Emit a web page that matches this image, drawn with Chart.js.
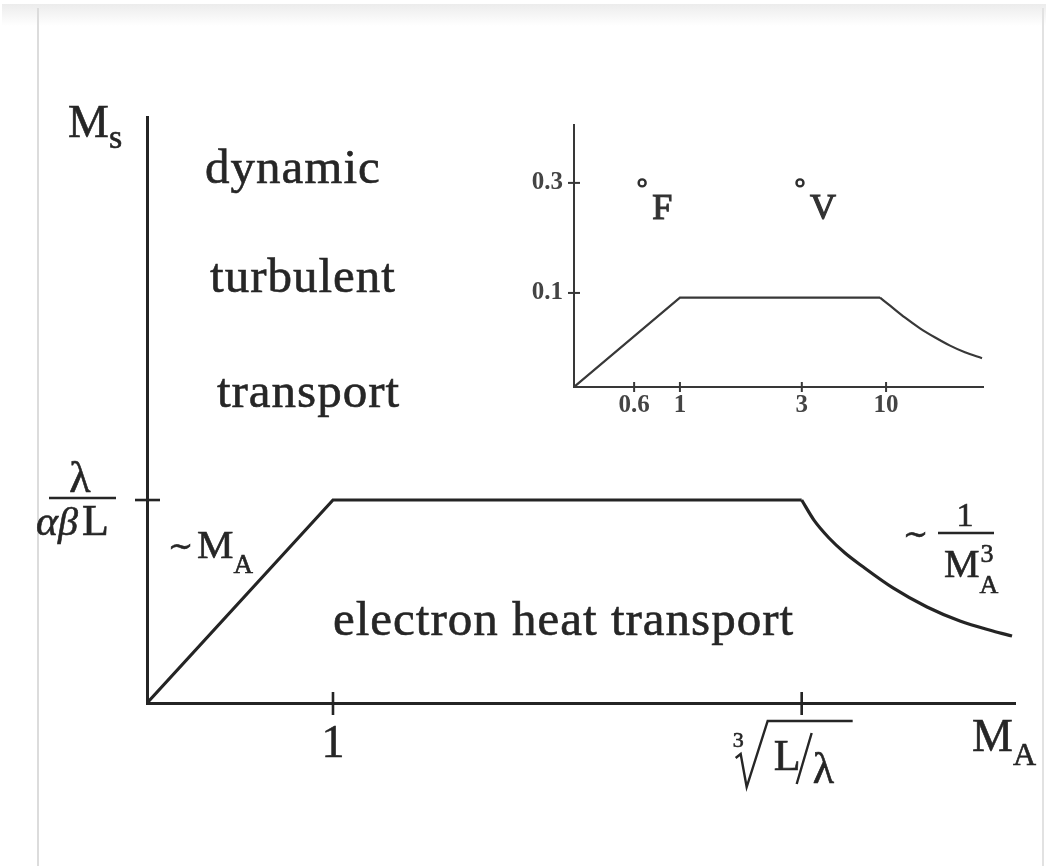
<!DOCTYPE html>
<html>
<head>
<meta charset="utf-8">
<script src="https://cdn.jsdelivr.net/npm/chart.js@4.4.1/dist/chart.umd.min.js"></script>
<style>
  html, body { margin: 0; padding: 0; background: #fff; }
  #page { position: relative; width: 1046px; height: 866px; overflow: hidden; background: #fff; }
  #topband { position: absolute; left: 2px; top: 4px; width: 1044px; height: 22px; background: linear-gradient(#ececec, #ffffff); }
  #leftrule { position: absolute; left: 37px; top: 8px; width: 2px; height: 858px; background: #dcdcdc; }
  #rightrule { position: absolute; left: 1042px; top: 8px; width: 2px; height: 858px; background: #e2e2e2; }
  #main { position: absolute; left: 0; top: 0; }
  #inset { position: absolute; left: 500px; top: 110px; }
</style>
</head>
<body>
<div id="page">
  <div id="topband"></div>
  <div id="leftrule"></div>
  <div id="rightrule"></div>
  <canvas id="main" width="1046" height="866"></canvas>
  <canvas id="inset" width="500" height="320"></canvas>
</div>
<script>
// ---- Main diagram: sonic Mach number M_s (units of λ/(αβL)) against Alfvén Mach number M_A ----
const cubeRootLoverLambda = 3.52;            // position of the ∛(L/λ) break on the M_A axis
const riseMA  = [0, 1, cubeRootLoverLambda];
const riseMs  = [0, 1, 1];
const fallMA  = [cubeRootLoverLambda, 3.586, 3.667, 3.753, 3.844, 4.011, 4.194, 4.371, 4.548, 4.651];
const fallMs  = [1, 0.901, 0.813, 0.739, 0.675, 0.567, 0.473, 0.404, 0.355, 0.330];
const mainXTicks = [1, cubeRootLoverLambda];
const mainYTicks = [1];

// ---- Inset: measured threshold curve with the F and V cases ----
const insetRiseMA = [0, 1, 9.5];
const insetRiseMs = [0, 0.095, 0.095];
const insetFallMA = [9.5, 11.24, 15.9, 20.5, 25.2, 29.8, 34.4, 39.7];
const insetFallMs = [0.095, 0.0865, 0.0737, 0.0624, 0.0526, 0.0440, 0.0369, 0.0306];
const insetXTicks = [0.6, 1, 3, 10];
const insetXTickLabels = ['0.6', '1', '3', '10'];
const insetYTicks = [0.1, 0.3];
const insetYTickLabels = ['0.1', '0.3'];
const caseNames = ['F', 'V'];
const caseMA = [0.67, 2.97];
const caseMs = [0.3, 0.3];

const INK = '#262626';
const LINE = '#242424';
const SERIF = '"Liberation Serif", "DejaVu Serif", serif';

// Schematic axis: piecewise-linear between break values
const insetBreaks = {
  x: { values: [0, 0.6, 1, 3, 10, 40], fractions: [0, 0.147, 0.259, 0.557, 0.763, 1] },
  y: { values: [0, 0.1, 0.3, 0.405], fractions: [0, 0.359, 0.779, 1] }
};
class SchematicScale extends Chart.LinearScale {
  _fraction(value) {
    const b = insetBreaks[this.axis];
    const v = b.values, f = b.fractions;
    if (value <= v[0]) return f[0];
    for (let i = 0; i < v.length - 1; i++) {
      if (value <= v[i + 1]) {
        return f[i] + (value - v[i]) / (v[i + 1] - v[i]) * (f[i + 1] - f[i]);
      }
    }
    return f[f.length - 1];
  }
  getPixelForValue(value) {
    return this.getPixelForDecimal(this._fraction(value));
  }
  getValueForPixel(pixel) {
    const b = insetBreaks[this.axis];
    const d = this.getDecimalForPixel(pixel);
    const v = b.values, f = b.fractions;
    for (let i = 0; i < f.length - 1; i++) {
      if (d <= f[i + 1]) return v[i] + (d - f[i]) / (f[i + 1] - f[i]) * (v[i + 1] - v[i]);
    }
    return v[v.length - 1];
  }
}
SchematicScale.id = 'schematic';
SchematicScale.defaults = { ticks: { callback: Chart.Ticks.formatters.numeric } };
Chart.register(SchematicScale);

function drawText(ctx, s, x, y, size, opts = {}) {
  ctx.save();
  ctx.font = (opts.italic ? 'italic ' : '') + (opts.bold ? 'bold ' : '') + size + 'px ' + SERIF;
  ctx.fillStyle = opts.color || INK;
  ctx.strokeStyle = opts.color || INK;
  ctx.lineWidth = opts.weight === undefined ? 0.6 : opts.weight;
  ctx.textAlign = opts.align || 'left';
  ctx.textBaseline = 'alphabetic';
  if (opts.spacing) ctx.letterSpacing = opts.spacing + 'px';
  ctx.fillText(s, x, y);
  if (ctx.lineWidth > 0) ctx.strokeText(s, x, y);
  const w = ctx.measureText(s).width;
  ctx.restore();
  return w;
}
function drawLine(ctx, pts, width, color) {
  ctx.save();
  ctx.strokeStyle = color || INK;
  ctx.lineWidth = width;
  ctx.lineJoin = 'miter';
  ctx.beginPath();
  ctx.moveTo(pts[0][0], pts[0][1]);
  for (let i = 1; i < pts.length; i++) ctx.lineTo(pts[i][0], pts[i][1]);
  ctx.stroke();
  ctx.restore();
}
const toPoints = (xs, ys) => xs.map((x, i) => ({ x, y: ys[i] }));

// Tick marks, math tick labels, axis titles and region labels of the main diagram
const mainAnnotations = {
  id: 'mainAnnotations',
  afterDraw(chart) {
    const ctx = chart.ctx;
    const xs = chart.scales.x, ys = chart.scales.y;
    const X = v => xs.getPixelForValue(v);
    const Y = v => ys.getPixelForValue(v);
    const x0 = X(0), y0 = Y(0);

    // crossing tick marks
    mainXTicks.forEach(v => drawLine(ctx, [[X(v), y0 - 11], [X(v), y0 + 12]], 2.6, LINE));
    mainYTicks.forEach(v => drawLine(ctx, [[x0 - 12, Y(v)], [x0 + 13, Y(v)]], 2.6, LINE));

    // x tick label "1"
    drawText(ctx, '1', X(1), y0 + 54, 46, { align: 'center' });

    // x tick label ∛(L/λ)
    const tx = X(cubeRootLoverLambda);
    drawText(ctx, '3', tx - 69, y0 + 44, 22);
    drawLine(ctx, [[tx - 66, y0 + 55], [tx - 61, y0 + 51], [tx - 55, y0 + 84], [tx - 34, y0 + 18], [tx + 51, y0 + 18]], 2.4, INK);
    drawText(ctx, 'L', tx - 28, y0 + 67, 44);
    drawLine(ctx, [[tx + 10, y0 + 30], [tx - 5, y0 + 81]], 2.4, INK);
    drawText(ctx, 'λ', tx + 11, y0 + 80, 44);

    // y tick label λ/(αβL)
    const ty = Y(1);
    drawText(ctx, 'λ', 80, ty - 8, 44, { align: 'center' });
    drawLine(ctx, [[49, ty - 2], [116, ty - 2]], 2.6, INK);
    let w = drawText(ctx, 'α', 36, ty + 35, 42, { italic: true });
    w += drawText(ctx, 'β', 36 + w, ty + 35, 40, { italic: true });
    drawText(ctx, 'L', 40 + w, ty + 35, 44);

    // axis titles
    const wm = drawText(ctx, 'M', 68, 137, 46);
    drawText(ctx, 's', 68 + wm, 148, 34);
    const wa = drawText(ctx, 'M', 972, 751, 46);
    drawText(ctx, 'A', 972 + wa, 765, 32);

    // slope annotations
    drawText(ctx, '∼', 168, 556, 30);
    const wr = drawText(ctx, 'M', 197, 558, 41);
    drawText(ctx, 'A', 197 + wr, 573, 27);

    drawText(ctx, '∼', 903, 544, 30);
    drawText(ctx, '1', 965, 526, 34, { align: 'center' });
    drawLine(ctx, [[938, 533], [994, 533]], 2.4, INK);
    const wf = drawText(ctx, 'M', 944, 577, 40);
    drawText(ctx, '3', 944 + wf + 1, 562, 26);
    drawText(ctx, 'A', 944 + wf, 593, 26);

    // regime labels
    const region = { spacing: 1 };
    drawText(ctx, 'dynamic', X(0.312), Y(2.562), 49, region);
    drawText(ctx, 'turbulent', X(0.339), Y(2.025), 49, region);
    drawText(ctx, 'transport', X(0.376), Y(1.458), 49, region);
    drawText(ctx, 'electron heat transport', X(1.0), Y(0.335), 49, region);
  }
};

new Chart(document.getElementById('main'), {
  type: 'line',
  data: {
    datasets: [
      { data: toPoints(riseMA, riseMs), borderColor: LINE, borderWidth: 3.2, pointRadius: 0, tension: 0, fill: false },
      { data: toPoints(fallMA, fallMs), borderColor: LINE, borderWidth: 3.2, pointRadius: 0, cubicInterpolationMode: 'monotone', fill: false }
    ]
  },
  options: {
    responsive: false,
    animation: false,
    events: [],
    layout: { padding: { left: 147, top: 117, right: 31, bottom: 163 } },
    plugins: { legend: { display: false }, tooltip: { enabled: false } },
    scales: {
      x: {
        type: 'linear', min: 0, max: 4.667,
        grid: { display: false, drawTicks: false },
        ticks: { display: false },
        border: { display: true, color: LINE, width: 3 },
        afterFit(s) { s.height = 0; s.paddingLeft = 0; s.paddingRight = 0; }
      },
      y: {
        type: 'linear', min: 0, max: 2.887,
        grid: { display: false, drawTicks: false },
        ticks: { display: false },
        border: { display: true, color: LINE, width: 3 },
        afterFit(s) { s.width = 0; s.paddingTop = 0; s.paddingBottom = 0; }
      }
    }
  },
  plugins: [mainAnnotations]
});

// Inset tick marks and case labels
const INSET_INK = '#383838';
const insetAnnotations = {
  id: 'insetAnnotations',
  afterDraw(chart) {
    const ctx = chart.ctx;
    const xs = chart.scales.x, ys = chart.scales.y;
    const axisY = ys.getPixelForValue(0), axisX = xs.getPixelForValue(0);
    insetXTicks.forEach(v => {
      const p = xs.getPixelForValue(v);
      drawLine(ctx, [[p, axisY - 5], [p, axisY + 5]], 2, INSET_INK);
    });
    insetYTicks.forEach(v => {
      const p = ys.getPixelForValue(v);
      drawLine(ctx, [[axisX - 6, p], [axisX + 6, p]], 2, INSET_INK);
    });
    caseNames.forEach((name, i) => {
      const px = xs.getPixelForValue(caseMA[i]);
      const py = ys.getPixelForValue(caseMs[i]);
      drawText(ctx, name, px + 10, py + 36, 36, { color: '#333', weight: 1.2 });
    });
  }
};

new Chart(document.getElementById('inset'), {
  type: 'line',
  data: {
    datasets: [
      { data: toPoints(insetRiseMA, insetRiseMs), borderColor: INSET_INK, borderWidth: 2.2, pointRadius: 0, tension: 0, fill: false },
      { data: toPoints(insetFallMA, insetFallMs), borderColor: INSET_INK, borderWidth: 2.2, pointRadius: 0, cubicInterpolationMode: 'monotone', fill: false },
      { type: 'scatter', data: toPoints(caseMA, caseMs), showLine: false, pointRadius: 3.5, pointBorderWidth: 2.4,
        pointBackgroundColor: '#fff', pointBorderColor: '#2e2e2e' }
    ]
  },
  options: {
    responsive: false,
    animation: false,
    events: [],
    layout: { padding: { left: 0, top: 15, right: 17, bottom: 0 } },
    plugins: { legend: { display: false }, tooltip: { enabled: false } },
    scales: {
      x: {
        type: 'schematic', min: 0, max: 40,
        afterBuildTicks(s) { s.ticks = insetXTicks.map(v => ({ value: v })); },
        ticks: {
          autoSkip: false, maxRotation: 0, padding: 4, color: '#444',
          font: { family: SERIF, size: 25, weight: 'bold' },
          callback: (v, i) => insetXTickLabels[i]
        },
        grid: { display: false, drawTicks: false },
        border: { display: true, color: INSET_INK, width: 2 },
        afterFit(s) { s.height = 43; s.paddingLeft = 0; s.paddingRight = 0; }
      },
      y: {
        type: 'schematic', min: 0, max: 0.405,
        afterBuildTicks(s) { s.ticks = insetYTicks.map(v => ({ value: v })); },
        ticks: {
          autoSkip: false, padding: 11, color: '#444',
          font: { family: SERIF, size: 25, weight: 'bold' },
          callback: (v, i) => insetYTickLabels[i]
        },
        grid: { display: false, drawTicks: false },
        border: { display: true, color: INSET_INK, width: 2 },
        afterFit(s) { s.width = 74; s.paddingTop = 0; s.paddingBottom = 0; }
      }
    }
  },
  plugins: [insetAnnotations]
});
</script>
</body>
</html>
